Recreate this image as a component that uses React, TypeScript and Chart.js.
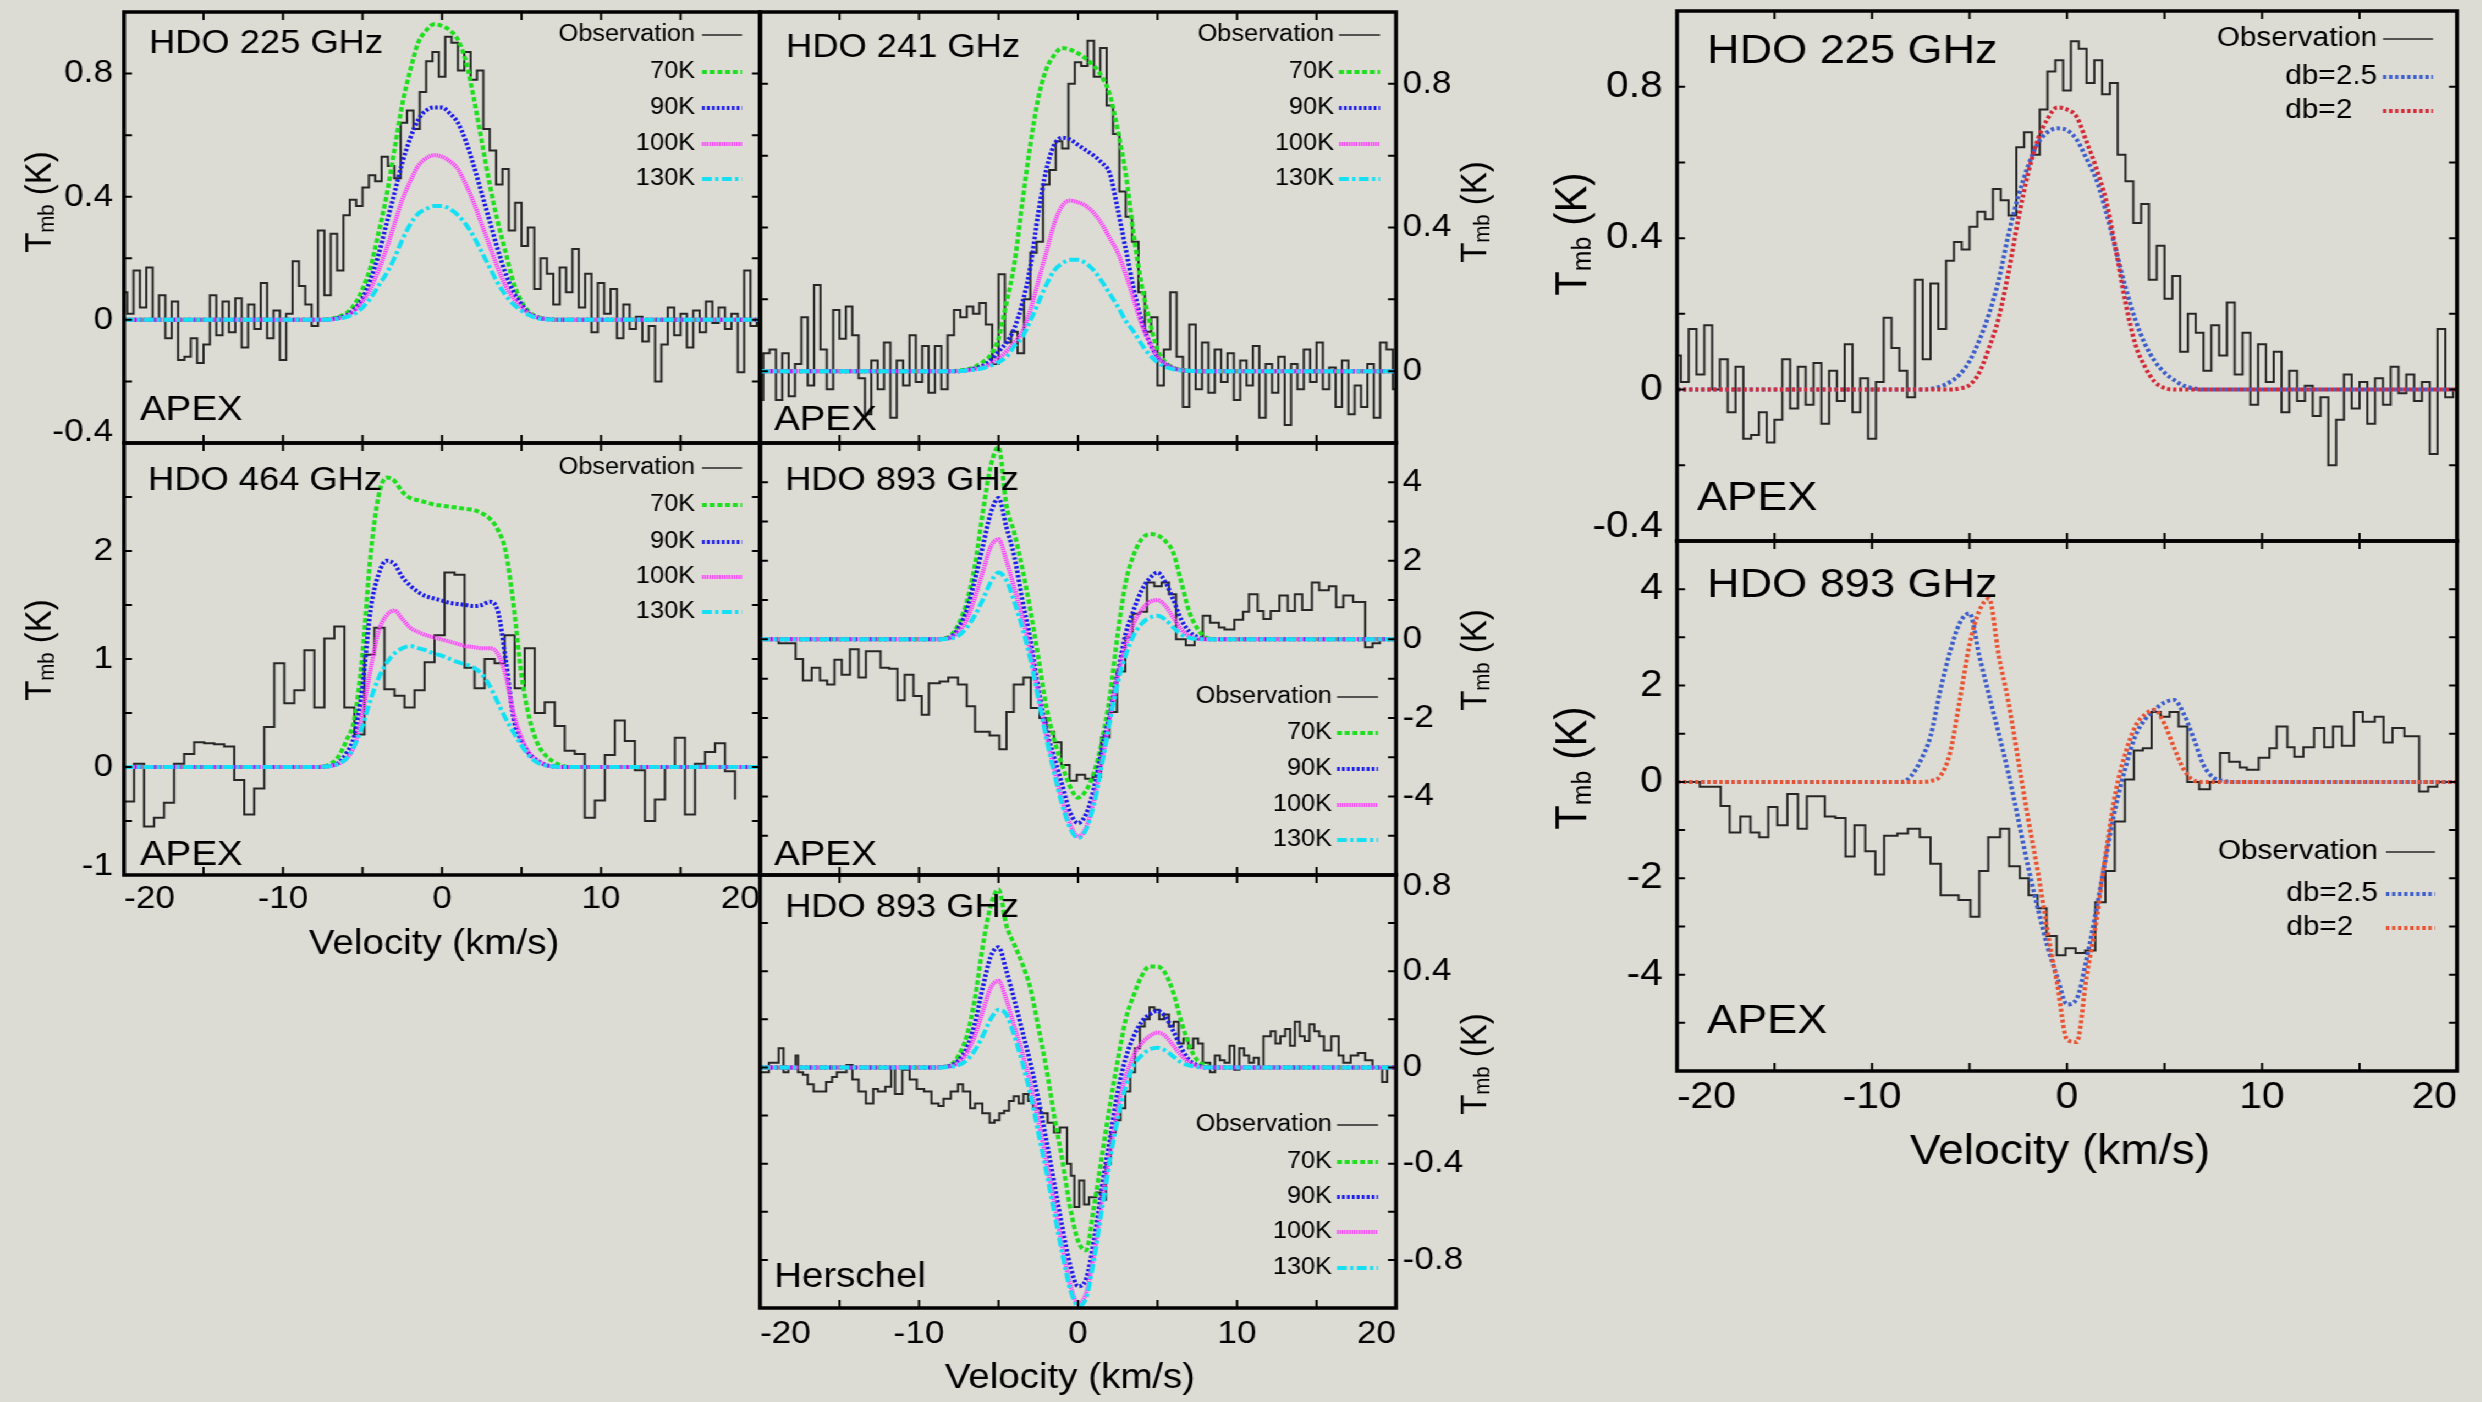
import React, { useEffect, useRef } from 'react';
import { Chart, registerables } from 'chart.js';

Chart.register(...registerables);

// ---------------------------------------------------------------- constants
const S = 1.1; // the original figure is stretched horizontally
const BG = '#dcdcd5';
const FAMILY = '"Liberation Sans", Arial, Helvetica, sans-serif';
const X_MIN = -20;
const X_MAX = 20;
const X_MINOR = 5;
const X_TICKS = [-20, -10, 0, 10, 20];

// ---------------------------------------------------------------- data
// model velocity grid (km/s)
const MODEL_V = [-20, -9, -8.5, -8, -7.5, -7, -6.5, -6, -5.5, -5, -4.5, -4, -3.5, -3, -2.5, -2, -1.5, -1, -0.5, 0, 0.5, 1, 1.5, 2, 2.5, 3, 3.5, 4, 4.5, 5, 5.5, 6, 6.5, 7, 7.5, 8, 8.5, 9, 20];

// HDO 225 GHz (APEX), channels of 0.4 km/s starting at -20
const CH0_225 = -20;
const DV_225 = 0.4;
const OBS_225 = [
  0.09, 0.02, 0.16, 0.04, 0.17, 0.00, 0.08, -0.06, 0.06, -0.13,
  -0.12, -0.06, -0.14, -0.08, 0.08, -0.05, 0.06, -0.04, 0.07, -0.09,
  0.05, -0.03, 0.12, -0.06, 0.03, -0.13, 0.02, 0.19, 0.11, 0.05,
  -0.02, 0.29, 0.08, 0.28, 0.16, 0.34, 0.39, 0.37, 0.43, 0.47,
  0.45, 0.53, 0.50, 0.46, 0.64, 0.68, 0.62, 0.74, 0.84, 0.87,
  0.79, 0.92, 0.90, 0.81, 0.87, 0.78, 0.81, 0.62, 0.55, 0.44,
  0.49, 0.29, 0.38, 0.24, 0.30, 0.10, 0.20, 0.15, 0.05, 0.17,
  0.09, 0.23, 0.04, 0.15, -0.04, 0.12, 0.02, 0.10, -0.06, 0.05,
  -0.03, 0.01, -0.07, -0.02, -0.20, -0.08, 0.04, -0.05, 0.02, -0.09,
  0.03, -0.04, 0.06, -0.01, 0.04, -0.03, 0.02, -0.17, 0.16, -0.02,
  0.00,
];
const A_70 = [0, 0, 0, 0, 0.001, 0.003, 0.01, 0.022, 0.05, 0.10, 0.17, 0.28, 0.40, 0.55, 0.70, 0.81, 0.90, 0.94, 0.96, 0.955, 0.94, 0.91, 0.84, 0.72, 0.58, 0.44, 0.32, 0.22, 0.12, 0.06, 0.025, 0.01, 0.004, 0.001, 0, 0, 0, 0, 0];
const A_90 = [0, 0, 0, 0, 0, 0.002, 0.007, 0.015, 0.035, 0.07, 0.13, 0.21, 0.31, 0.41, 0.51, 0.59, 0.65, 0.68, 0.69, 0.69, 0.67, 0.64, 0.58, 0.50, 0.41, 0.32, 0.23, 0.15, 0.09, 0.05, 0.02, 0.008, 0.003, 0.001, 0, 0, 0, 0, 0];
const A_100 = [0, 0, 0, 0, 0, 0.001, 0.005, 0.012, 0.03, 0.06, 0.10, 0.16, 0.23, 0.31, 0.39, 0.45, 0.50, 0.525, 0.535, 0.53, 0.515, 0.49, 0.44, 0.38, 0.31, 0.24, 0.17, 0.11, 0.07, 0.04, 0.02, 0.008, 0.003, 0.001, 0, 0, 0, 0, 0];
const A_130 = [0, 0, 0, 0, 0, 0.001, 0.004, 0.01, 0.02, 0.04, 0.07, 0.11, 0.15, 0.20, 0.26, 0.31, 0.345, 0.36, 0.37, 0.37, 0.36, 0.34, 0.31, 0.27, 0.22, 0.17, 0.12, 0.08, 0.05, 0.03, 0.015, 0.005, 0.002, 0.001, 0, 0, 0, 0, 0];

// HDO 241 GHz (APEX)
const CH0_241 = -20;
const DV_241 = 0.4;
const OBS_241 = [
  -0.08, 0.05, 0.06, -0.08, 0.05, -0.07, 0.02, 0.15, -0.04, 0.24,
  0.06, -0.05, 0.17, 0.09, 0.18, 0.10, -0.02, -0.12, 0.03, -0.05,
  0.08, -0.13, 0.03, -0.04, 0.10, -0.03, 0.07, -0.06, 0.07, -0.05,
  0.10, 0.17, 0.15, 0.18, 0.16, 0.19, 0.13, 0.02, 0.27, 0.08,
  0.11, 0.05, 0.20, 0.33, 0.36, 0.52, 0.56, 0.64, 0.62, 0.80,
  0.86, 0.85, 0.92, 0.82, 0.90, 0.74, 0.66, 0.50, 0.43, 0.36,
  0.22, 0.11, 0.15, -0.04, 0.06, 0.22, 0.04, -0.10, 0.13, -0.05,
  0.08, -0.06, 0.06, -0.03, 0.05, -0.08, 0.03, -0.04, 0.07, -0.13,
  0.02, -0.06, 0.04, -0.15, 0.02, -0.05, 0.06, -0.03, 0.08, -0.05,
  0.01, -0.10, 0.03, -0.12, -0.04, -0.10, 0.02, -0.13, 0.08, 0.06,
  -0.05,
];
const B_70 = [0, 0, 0, 0, 0.002, 0.005, 0.012, 0.025, 0.045, 0.09, 0.19, 0.30, 0.47, 0.63, 0.76, 0.84, 0.88, 0.90, 0.895, 0.885, 0.87, 0.85, 0.82, 0.77, 0.67, 0.55, 0.38, 0.24, 0.14, 0.06, 0.025, 0.01, 0.004, 0.001, 0, 0, 0, 0, 0];
const B_90 = [0, 0, 0, 0, 0, 0.003, 0.008, 0.015, 0.03, 0.055, 0.08, 0.12, 0.19, 0.29, 0.44, 0.56, 0.63, 0.65, 0.645, 0.63, 0.615, 0.60, 0.58, 0.55, 0.45, 0.34, 0.23, 0.14, 0.08, 0.04, 0.02, 0.008, 0.003, 0.001, 0, 0, 0, 0, 0];
const B_100 = [0, 0, 0, 0, 0, 0.002, 0.005, 0.01, 0.02, 0.035, 0.055, 0.08, 0.11, 0.17, 0.25, 0.33, 0.41, 0.46, 0.475, 0.47, 0.46, 0.44, 0.41, 0.37, 0.33, 0.27, 0.20, 0.13, 0.08, 0.04, 0.02, 0.008, 0.003, 0.001, 0, 0, 0, 0, 0];
const B_130 = [0, 0, 0, 0, 0, 0.002, 0.004, 0.008, 0.015, 0.025, 0.04, 0.07, 0.095, 0.14, 0.19, 0.24, 0.28, 0.30, 0.31, 0.31, 0.30, 0.28, 0.25, 0.215, 0.18, 0.14, 0.11, 0.075, 0.045, 0.025, 0.012, 0.005, 0.002, 0.001, 0, 0, 0, 0, 0];

// HDO 464 GHz (APEX), channels of 0.63 km/s, left edges from -20
const CH0_464 = -20;
const DV_464 = 0.63;
const OBS_464 = [
  -0.32, 0.03, -0.55, -0.47, -0.33, 0.03, 0.12, 0.23, 0.22, 0.21,
  0.19, -0.12, -0.44, -0.20, 0.37, 0.96, 0.59, 0.71, 1.08, 0.55,
  1.19, 1.30, 0.55, 0.30, 1.04, 1.29, 0.72, 0.66, 0.55, 0.71,
  0.97, 1.22, 1.80, 1.78, 0.92, 0.73, 1.00, 0.96, 1.22, 0.73,
  1.10, 0.50, 0.60, 0.38, 0.15, 0.12, -0.47, -0.31, 0.11, 0.43,
  0.24, -0.03, -0.50, -0.30, 0.00, 0.27, -0.44, 0.03, 0.14, 0.22,
  -0.04, -0.30,
];
const C_70 = [0, 0, 0, 0, 0.005, 0.03, 0.10, 0.25, 0.45, 1.05, 1.95, 2.50, 2.68, 2.65, 2.55, 2.49, 2.47, 2.45, 2.43, 2.42, 2.41, 2.40, 2.39, 2.38, 2.35, 2.30, 2.20, 2.00, 1.50, 0.85, 0.45, 0.22, 0.11, 0.05, 0.015, 0, 0, 0, 0];
const C_90 = [0, 0, 0, 0, 0.002, 0.01, 0.04, 0.13, 0.30, 0.75, 1.45, 1.78, 1.91, 1.88, 1.76, 1.68, 1.62, 1.58, 1.56, 1.54, 1.52, 1.51, 1.50, 1.49, 1.50, 1.53, 1.45, 1.00, 0.45, 0.24, 0.12, 0.06, 0.02, 0.005, 0, 0, 0, 0, 0];
const C_100 = [0, 0, 0, 0, 0.002, 0.01, 0.03, 0.08, 0.20, 0.50, 0.90, 1.25, 1.40, 1.45, 1.37, 1.29, 1.25, 1.22, 1.20, 1.18, 1.16, 1.14, 1.12, 1.11, 1.10, 1.10, 1.05, 0.85, 0.50, 0.27, 0.13, 0.06, 0.02, 0.005, 0, 0, 0, 0, 0];
const C_130 = [0, 0, 0, 0, 0.002, 0.01, 0.03, 0.08, 0.20, 0.38, 0.62, 0.82, 0.96, 1.05, 1.10, 1.12, 1.10, 1.08, 1.05, 1.03, 1.00, 0.97, 0.95, 0.92, 0.86, 0.75, 0.60, 0.45, 0.32, 0.20, 0.10, 0.04, 0.015, 0.005, 0, 0, 0, 0, 0];

// HDO 893 GHz (APEX): channel left edges and values
const OBS_893A_V = [-20.0, -18.83, -17.76, -17.30, -16.75, -16.23, -15.78, -15.32, -14.86, -14.34, -13.80, -13.34, -12.42, -11.88, -11.36, -10.90, -10.35, -9.83, -9.38, -8.70, -8.16, -7.55, -7.00, -6.48, -5.56, -4.95, -4.50, -4.04, -3.43, -2.97, -2.42, -1.97, -1.51, -1.05, -0.53, -0.08, 0.44, 0.93, 1.45, 1.97, 2.45, 2.97, 3.43, 3.89, 4.34, 4.80, 5.26, 5.72, 6.17, 6.78, 7.33, 7.85, 8.31, 8.86, 9.22, 9.83, 10.38, 10.75, 11.30, 11.66, 12.12, 12.67, 13.19, 13.64, 14.10, 14.71, 15.17, 15.78, 16.23, 16.69, 17.30, 18.06, 18.52, 18.98, 20.0];
const OBS_893A_T = [0.0, -0.10, -0.50, -1.05, -0.72, -1.05, -1.15, -0.52, -0.90, -0.25, -0.97, -0.30, -0.72, -0.75, -1.55, -0.90, -1.44, -1.92, -1.12, -1.07, -0.97, -1.15, -1.70, -2.35, -2.45, -2.80, -1.85, -1.15, -0.97, -1.75, -2.00, -2.35, -2.62, -3.20, -3.60, -3.45, -3.55, -3.50, -2.50, -1.85, -0.82, 0.05, 0.65, 0.70, 1.45, 1.35, 1.45, 1.15, 0.00, -0.15, 0.00, 0.60, 0.42, 0.30, 0.25, 0.50, 0.70, 1.15, 0.72, 0.52, 0.72, 1.12, 0.72, 1.15, 0.75, 1.45, 1.25, 1.35, 0.82, 1.12, 0.95, -0.20, -0.10, 0.00, 0.00];
const D_70 = [0, 0, 0.02, 0.1, 0.4, 0.95, 1.85, 3.2, 4.4, 4.9, 3.4, 2.7, 1.8, 0.75, -0.45, -1.7, -2.55, -3.2, -3.75, -4.03, -3.85, -3.4, -2.6, -1.45, 0.15, 1.45, 2.15, 2.55, 2.68, 2.65, 2.5, 2.2, 1.45, 0.7, 0.28, 0.06, 0.01, 0, 0];
const D_90 = [0, 0, 0.01, 0.06, 0.3, 0.75, 1.5, 2.35, 3.2, 3.6, 2.85, 2.1, 1.0, 0.0, -1.25, -2.3, -3.0, -3.7, -4.4, -4.68, -4.45, -3.8, -2.8, -1.9, -0.85, 0.15, 0.75, 1.25, 1.55, 1.7, 1.45, 1.0, 0.5, 0.2, 0.06, 0.01, 0, 0, 0];
const D_100 = [0, 0, 0.01, 0.04, 0.2, 0.5, 1.05, 1.7, 2.35, 2.55, 2.0, 1.3, 0.55, -0.3, -1.4, -2.4, -3.3, -4.1, -4.7, -5.02, -4.8, -4.1, -3.1, -2.0, -0.95, -0.15, 0.4, 0.75, 0.95, 1.0, 0.85, 0.55, 0.25, 0.08, 0.02, 0, 0, 0, 0];
const D_130 = [0, 0, 0.005, 0.02, 0.1, 0.3, 0.6, 1.0, 1.45, 1.7, 1.5, 0.95, 0.3, -0.5, -1.5, -2.5, -3.4, -4.2, -4.8, -5.06, -4.85, -4.2, -3.2, -2.1, -1.1, -0.4, 0.1, 0.4, 0.55, 0.6, 0.5, 0.3, 0.12, 0.04, 0.01, 0, 0, 0, 0];

// HDO 893 GHz (Herschel): channel left edges and values
const OBS_893H_V = [-20.0, -19.44, -18.83, -18.52, -18.22, -17.76, -17.61, -17.30, -17.00, -16.63, -16.23, -15.84, -15.47, -15.17, -14.56, -14.19, -13.80, -13.34, -12.88, -12.58, -12.12, -11.75, -11.51, -11.05, -10.59, -10.14, -9.68, -9.22, -8.77, -8.46, -8.00, -7.55, -7.24, -6.78, -6.48, -6.02, -5.56, -5.26, -4.95, -4.65, -4.34, -4.04, -3.73, -3.43, -3.13, -2.82, -2.36, -1.91, -1.51, -1.14, -0.69, -0.44, -0.23, 0.08, 0.38, 0.69, 1.14, 1.45, 1.75, 2.06, 2.36, 2.67, 2.97, 3.28, 3.58, 3.89, 4.19, 4.50, 4.80, 5.11, 5.41, 5.72, 6.02, 6.33, 6.63, 6.94, 7.24, 7.55, 7.85, 8.31, 8.61, 8.92, 9.22, 9.53, 9.83, 10.14, 10.44, 10.75, 11.05, 11.36, 11.66, 12.12, 12.42, 12.73, 13.03, 13.34, 13.64, 13.95, 14.25, 14.56, 14.86, 15.17, 15.47, 15.93, 16.39, 16.69, 17.15, 17.61, 18.06, 18.52, 19.13, 19.44, 19.6];
const OBS_893H_T = [-0.02, 0.02, 0.08, -0.02, 0.00, 0.05, -0.02, -0.03, -0.07, -0.10, -0.10, -0.06, -0.04, -0.02, 0.01, -0.05, -0.10, -0.15, -0.09, -0.10, -0.08, 0.00, -0.11, -0.01, -0.05, -0.09, -0.10, -0.15, -0.16, -0.13, -0.10, -0.07, -0.10, -0.17, -0.15, -0.19, -0.23, -0.22, -0.19, -0.18, -0.14, -0.12, -0.15, -0.11, -0.14, -0.17, -0.19, -0.23, -0.27, -0.25, -0.40, -0.45, -0.58, -0.47, -0.57, -0.54, -0.52, -0.55, -0.40, -0.27, -0.22, -0.17, -0.10, -0.02, 0.08, 0.17, 0.20, 0.25, 0.24, 0.20, 0.22, 0.17, 0.19, 0.10, 0.12, 0.08, 0.12, 0.10, 0.02, -0.02, 0.05, 0.03, 0.02, 0.09, -0.01, 0.08, 0.05, 0.02, 0.04, 0.00, 0.13, 0.15, 0.10, 0.13, 0.16, 0.09, 0.19, 0.13, 0.11, 0.18, 0.15, 0.13, 0.07, 0.13, 0.05, 0.02, 0.05, 0.06, 0.03, 0.00, -0.06, 0.00, 0.00];
const E_70 = [0, 0, 0.002, 0.01, 0.05, 0.13, 0.28, 0.5, 0.67, 0.74, 0.59, 0.51, 0.43, 0.33, 0.17, 0.0, -0.2, -0.38, -0.58, -0.72, -0.76, -0.58, -0.37, -0.16, 0.03, 0.2, 0.3, 0.38, 0.42, 0.42, 0.39, 0.31, 0.19, 0.09, 0.03, 0.01, 0, 0, 0];
const E_90 = [0, 0, 0.002, 0.008, 0.03, 0.08, 0.18, 0.33, 0.46, 0.5, 0.4, 0.28, 0.15, 0.02, -0.13, -0.3, -0.48, -0.66, -0.82, -0.91, -0.88, -0.72, -0.5, -0.3, -0.1, 0.04, 0.13, 0.19, 0.22, 0.235, 0.21, 0.15, 0.08, 0.03, 0.01, 0, 0, 0, 0];
const E_100 = [0, 0, 0.001, 0.005, 0.02, 0.06, 0.13, 0.23, 0.33, 0.36, 0.28, 0.17, 0.06, -0.07, -0.22, -0.39, -0.56, -0.74, -0.9, -0.98, -0.94, -0.78, -0.56, -0.36, -0.17, -0.04, 0.05, 0.1, 0.13, 0.145, 0.13, 0.09, 0.05, 0.02, 0.005, 0, 0, 0, 0];
const E_130 = [0, 0, 0, 0.003, 0.01, 0.03, 0.07, 0.13, 0.2, 0.24, 0.22, 0.13, 0.02, -0.11, -0.27, -0.43, -0.6, -0.77, -0.92, -0.99, -0.96, -0.8, -0.59, -0.39, -0.21, -0.08, 0.01, 0.05, 0.075, 0.082, 0.07, 0.045, 0.02, 0.008, 0.002, 0, 0, 0, 0];

// Right-hand figure: Doppler-b models
const F_DB25 = [0, 0, 0, 0, 0, 0.002, 0.008, 0.02, 0.04, 0.075, 0.13, 0.2, 0.29, 0.41, 0.51, 0.59, 0.65, 0.68, 0.69, 0.685, 0.66, 0.61, 0.555, 0.47, 0.37, 0.27, 0.185, 0.12, 0.075, 0.045, 0.025, 0.01, 0.003, 0, 0, 0, 0, 0, 0];
const F_DB2 = [0, 0, 0, 0, 0, 0, 0, 0, 0.003, 0.012, 0.045, 0.11, 0.19, 0.31, 0.45, 0.57, 0.66, 0.715, 0.745, 0.74, 0.72, 0.655, 0.585, 0.5, 0.37, 0.23, 0.12, 0.06, 0.02, 0.004, 0, 0, 0, 0, 0, 0, 0, 0, 0];
const G_DB25 = [0, 0, 0, 0.12, 0.45, 0.95, 1.9, 2.7, 3.3, 3.5, 2.62, 1.8, 1.0, 0.17, -0.78, -1.75, -2.62, -3.42, -4.05, -4.62, -4.5, -3.68, -2.66, -1.55, -0.5, 0.3, 0.95, 1.3, 1.5, 1.65, 1.7, 1.4, 0.9, 0.35, 0.09, 0.02, 0, 0, 0];
const G_DB2 = [0, 0, 0, 0, 0, 0.02, 0.12, 0.6, 1.7, 2.85, 3.55, 3.8, 2.62, 1.65, 0.45, -0.75, -1.85, -3.1, -4.2, -5.35, -5.4, -4.05, -2.9, -1.45, -0.2, 0.6, 1.15, 1.4, 1.5, 1.2, 0.7, 0.25, 0.03, 0, 0, 0, 0, 0, 0];

// ---------------------------------------------------------------- styles
type LineStyle = { color: string; width: number; dash: number[]; legendWidth?: number };
const OBS_STYLE: LineStyle = { color: '#262626', width: 2, dash: [], legendWidth: 1.6 };
const K_LABELS = ['70K', '90K', '100K', '130K'];
const K_STYLES: LineStyle[] = [
  { color: '#1ede1e', width: 4, dash: [4.5, 2.5] },
  { color: '#1c1cec', width: 4, dash: [2.5, 2] },
  { color: '#ff3cff', width: 4, dash: [1.4, 0.8] },
  { color: '#14e0f4', width: 4, dash: [9, 3, 3, 3] },
];
const DB25_STYLE: LineStyle = { color: '#3d5ecb', width: 4, dash: [3, 2.5] };
const DB2F_STYLE: LineStyle = { color: '#d42a38', width: 4, dash: [3, 2.5] };
const DB2G_STYLE: LineStyle = { color: '#ea5230', width: 4, dash: [3, 2.5] };

type SeriesDef = { label: string; xs: number[]; ys: number[]; style: LineStyle; stepped?: 'middle' | 'before'; alignPrev?: boolean };

const gridOf = (vals: number[], v0: number, dv: number) => vals.map((_, i) => v0 + dv * i);

const obs225: SeriesDef = { label: 'Observation', xs: gridOf(OBS_225, CH0_225, DV_225), ys: OBS_225, style: OBS_STYLE, stepped: 'middle' };
const obs241: SeriesDef = { label: 'Observation', xs: gridOf(OBS_241, CH0_241, DV_241), ys: OBS_241, style: OBS_STYLE, stepped: 'middle' };
const obs464: SeriesDef = { label: 'Observation', xs: gridOf(OBS_464, CH0_464, DV_464), ys: OBS_464, style: OBS_STYLE, stepped: 'before' };
const obs893A: SeriesDef = { label: 'Observation', xs: OBS_893A_V, ys: OBS_893A_T, style: OBS_STYLE, stepped: 'before' };
const obs893H: SeriesDef = { label: 'Observation', xs: OBS_893H_V, ys: OBS_893H_T, style: OBS_STYLE, stepped: 'before' };

const models = (arrs: number[][]): SeriesDef[] =>
  arrs.map((ys, i) => ({ label: K_LABELS[i], xs: MODEL_V, ys, style: K_STYLES[i] }));

// ---------------------------------------------------------------- panels
type PanelDef = {
  key: string;
  frame: [number, number, number, number];
  margin: [number, number, number, number];
  yPos: 'left' | 'right';
  yMin: number; yMax: number; yLabels: number[]; yMinor: number;
  edgeNudge: number;
  xLabels: boolean;
  tickFont: number; yTickPad: number; xTickPad: number;
  title: string; titleFont: number; titleAt: [number, number];
  tag: string; tagFont: number; tagAt: [number, number];
  legendFont: number; legendRows: number[]; legendTextR: number; legendLine: [number, number];
  yTitleAt: [number, number]; yTitleFont: number;
  velAt?: [number, number]; velFont?: number;
  series: SeriesDef[];
};

const PANELS: PanelDef[] = [
  {
    key: 'A', frame: [124, 12, 760, 443], margin: [124, 40, 12, 40], yPos: 'left',
    yMin: -0.4, yMax: 1.0, yLabels: [-0.4, 0, 0.4, 0.8], yMinor: 0.2, edgeNudge: 11, xLabels: false,
    tickFont: 32, yTickPad: 10, xTickPad: 5,
    title: 'HDO 225 GHz', titleFont: 33, titleAt: [25, 41], tag: 'APEX', tagFont: 35, tagAt: [16, -23],
    legendFont: 23, legendRows: [23, 60, 96, 132, 167], legendTextR: 65, legendLine: [58, 18],
    yTitleAt: [37, 202], yTitleFont: 33,
    series: [obs225, ...models([A_70, A_90, A_100, A_130])],
  },
  {
    key: 'B', frame: [760, 12, 1396, 443], margin: [40, 110, 12, 40], yPos: 'right',
    yMin: -0.2, yMax: 1.0, yLabels: [0, 0.4, 0.8], yMinor: 0.2, edgeNudge: 11, xLabels: false,
    tickFont: 32, yTickPad: 6, xTickPad: 5,
    title: 'HDO 241 GHz', titleFont: 33, titleAt: [26, 45], tag: 'APEX', tagFont: 35, tagAt: [14, -13],
    legendFont: 23, legendRows: [23, 60, 96, 132, 167], legendTextR: 62, legendLine: [57, 16],
    yTitleAt: [1473, 212], yTitleFont: 33,
    series: [obs241, ...models([B_70, B_90, B_100, B_130])],
  },
  {
    key: 'C', frame: [124, 443, 760, 875], margin: [124, 40, 40, 100], yPos: 'left',
    yMin: -1, yMax: 3, yLabels: [-1, 0, 1, 2], yMinor: 0.5, edgeNudge: 9, xLabels: true,
    tickFont: 32, yTickPad: 10, xTickPad: 5,
    title: 'HDO 464 GHz', titleFont: 33, titleAt: [24, 47], tag: 'APEX', tagFont: 35, tagAt: [16, -10],
    legendFont: 23, legendRows: [25, 62, 99, 134, 169], legendTextR: 65, legendLine: [58, 18],
    yTitleAt: [37, 650], yTitleFont: 33, velAt: [434, 944], velFont: 35,
    series: [obs464, ...models([C_70, C_90, C_100, C_130])],
  },
  {
    key: 'D', frame: [760, 443, 1396, 875], margin: [40, 110, 40, 40], yPos: 'right',
    yMin: -6, yMax: 5, yLabels: [-4, -2, 0, 2, 4], yMinor: 1, edgeNudge: 11, xLabels: false,
    tickFont: 32, yTickPad: 6, xTickPad: 5,
    title: 'HDO 893 GHz', titleFont: 33, titleAt: [25, 47], tag: 'APEX', tagFont: 35, tagAt: [14, -10],
    legendFont: 23, legendRows: [254, 290, 326, 362, 397], legendTextR: 64, legendLine: [59, 18],
    yTitleAt: [1473, 660], yTitleFont: 33,
    series: [obs893A, ...models([D_70, D_90, D_100, D_130])],
  },
  {
    key: 'E', frame: [760, 875, 1396, 1308], margin: [40, 110, 40, 94], yPos: 'right',
    yMin: -1.0, yMax: 0.8, yLabels: [-0.8, -0.4, 0, 0.4, 0.8], yMinor: 0.2, edgeNudge: 11, xLabels: true,
    tickFont: 32, yTickPad: 6, xTickPad: 7,
    title: 'HDO 893 GHz', titleFont: 33, titleAt: [25, 42], tag: 'Herschel', tagFont: 35, tagAt: [14, -21],
    legendFont: 23, legendRows: [250, 287, 322, 357, 393], legendTextR: 64, legendLine: [59, 18],
    yTitleAt: [1473, 1064], yTitleFont: 33, velAt: [1070, 1378], velFont: 35,
    series: [obs893H, ...models([E_70, E_90, E_100, E_130])],
  },
  {
    key: 'F', frame: [1677, 11, 2457, 541], margin: [140, 20, 11, 40], yPos: 'left',
    yMin: -0.4, yMax: 1.0, yLabels: [-0.4, 0, 0.4, 0.8], yMinor: 0.2, edgeNudge: 14, xLabels: false,
    tickFont: 37, yTickPad: 13, xTickPad: 5,
    title: 'HDO 225 GHz', titleFont: 41, titleAt: [30, 52], tag: 'APEX', tagFont: 41, tagAt: [20, -31],
    legendFont: 27, legendRows: [28, 66, 100], legendTextR: 80, legendLine: [74, 24],
    yTitleAt: [1570, 234], yTitleFont: 40,
    series: [
      obs225,
      { label: 'db=2.5', xs: MODEL_V, ys: F_DB25, style: DB25_STYLE },
      { label: 'db=2', xs: MODEL_V, ys: F_DB2, style: DB2F_STYLE, alignPrev: true },
    ],
  },
  {
    key: 'G', frame: [1677, 541, 2457, 1071], margin: [140, 20, 40, 110], yPos: 'left',
    yMin: -6, yMax: 5, yLabels: [-4, -2, 0, 2, 4], yMinor: 1, edgeNudge: 11, xLabels: true,
    tickFont: 37, yTickPad: 13, xTickPad: 5,
    title: 'HDO 893 GHz', titleFont: 41, titleAt: [30, 56], tag: 'APEX', tagFont: 41, tagAt: [30, -38],
    legendFont: 27, legendRows: [311, 353, 387], legendTextR: 79, legendLine: [71, 22],
    yTitleAt: [1570, 768], yTitleFont: 40, velAt: [2060, 1152], velFont: 42,
    series: [
      obs893A,
      { label: 'db=2.5', xs: MODEL_V, ys: G_DB25, style: DB25_STYLE },
      { label: 'db=2', xs: MODEL_V, ys: G_DB2, style: DB2G_STYLE, alignPrev: true },
    ],
  },
];

// ---------------------------------------------------------------- geometry
type Geo = { cl: number; ct: number; cw: number; ch: number; padL: number; padR: number; padT: number; padB: number };

function geometry(p: PanelDef): Geo {
  const [L, T, R, B] = p.frame;
  const [ml, mr, mt, mb] = p.margin;
  const cl = Math.floor((L - ml) / S);
  const cr = Math.ceil((R + mr) / S);
  const ct = T - mt;
  const cb = B + mb;
  return { cl, ct, cw: cr - cl, ch: cb - ct, padL: L / S - cl, padR: cr - R / S, padT: T - ct, padB: cb - B };
}

function drawYTitle(ctx: CanvasRenderingContext2D, cx: number, cy: number, size: number) {
  const sub = size * 0.62;
  ctx.save();
  ctx.translate(cx, cy);
  ctx.rotate(-Math.PI / 2);
  ctx.font = `${size}px ${FAMILY}`;
  const wT = ctx.measureText('T').width;
  const wK = ctx.measureText(' (K)').width;
  ctx.font = `${sub}px ${FAMILY}`;
  const wS = ctx.measureText('mb').width;
  let x = -(wT + wS + wK) / 2;
  const base = size * 0.36;
  ctx.fillStyle = '#000';
  ctx.textAlign = 'left';
  ctx.textBaseline = 'alphabetic';
  ctx.font = `${size}px ${FAMILY}`;
  ctx.fillText('T', x, base);
  x += wT;
  ctx.font = `${sub}px ${FAMILY}`;
  ctx.fillText('mb', x, base + size * 0.1);
  x += wS;
  ctx.font = `${size}px ${FAMILY}`;
  ctx.fillText(' (K)', x, base);
  ctx.restore();
}

function decorPlugin(p: PanelDef, g: Geo) {
  return {
    id: 'decor' + p.key,
    afterDatasetsDraw(chart: any) {
      const ctx = chart.ctx as CanvasRenderingContext2D;
      const a = chart.chartArea;
      const sx = chart.scales.x;
      const sy = chart.scales.y;
      ctx.save();
      ctx.setLineDash([]);
      ctx.strokeStyle = '#000';
      // inward tick marks on all four sides
      const TL = 8;
      ctx.lineWidth = 2;
      ctx.beginPath();
      const nx = Math.round((X_MAX - X_MIN) / X_MINOR);
      for (let i = 0; i <= nx; i++) {
        const px = sx.getPixelForValue(X_MIN + X_MINOR * i);
        ctx.moveTo(px, a.bottom); ctx.lineTo(px, a.bottom - TL);
        ctx.moveTo(px, a.top); ctx.lineTo(px, a.top + TL);
      }
      const ny = Math.round((p.yMax - p.yMin) / p.yMinor);
      for (let i = 0; i <= ny; i++) {
        const py = sy.getPixelForValue(p.yMin + p.yMinor * i);
        ctx.moveTo(a.left, py); ctx.lineTo(a.left + TL / S, py);
        ctx.moveTo(a.right, py); ctx.lineTo(a.right - TL / S, py);
      }
      ctx.stroke();
      // frame
      ctx.lineWidth = 3.5;
      ctx.strokeRect(a.left, a.top, a.right - a.left, a.bottom - a.top);

      // panel title and telescope tag
      ctx.fillStyle = '#000';
      ctx.textAlign = 'left';
      ctx.textBaseline = 'alphabetic';
      ctx.font = `${p.titleFont}px ${FAMILY}`;
      ctx.fillText(p.title, a.left + p.titleAt[0] / S, a.top + p.titleAt[1]);
      ctx.font = `${p.tagFont}px ${FAMILY}`;
      ctx.fillText(p.tag, a.left + p.tagAt[0] / S, a.bottom + p.tagAt[1]);

      // legend
      ctx.font = `${p.legendFont}px ${FAMILY}`;
      ctx.textBaseline = 'middle';
      let prevLeft = 0;
      p.series.forEach((s, i) => {
        const y = a.top + p.legendRows[i];
        const xr = a.right - p.legendTextR / S;
        ctx.fillStyle = '#000';
        if (s.alignPrev) {
          ctx.textAlign = 'left';
          ctx.fillText(s.label, prevLeft, y);
        } else {
          ctx.textAlign = 'right';
          ctx.fillText(s.label, xr, y);
          prevLeft = xr - ctx.measureText(s.label).width;
        }
        ctx.beginPath();
        ctx.strokeStyle = s.style.color;
        ctx.lineWidth = s.style.legendWidth ?? s.style.width;
        ctx.setLineDash(s.style.dash);
        ctx.moveTo(a.right - p.legendLine[0] / S, y);
        ctx.lineTo(a.right - p.legendLine[1] / S, y);
        ctx.stroke();
        ctx.setLineDash([]);
      });

      // axis titles
      drawYTitle(ctx, p.yTitleAt[0] / S - g.cl, p.yTitleAt[1] - g.ct, p.yTitleFont);
      if (p.velAt) {
        ctx.fillStyle = '#000';
        ctx.textAlign = 'center';
        ctx.textBaseline = 'middle';
        ctx.font = `${p.velFont}px ${FAMILY}`;
        ctx.fillText('Velocity (km/s)', p.velAt[0] / S - g.cl, p.velAt[1] - g.ct);
      }
      ctx.restore();
    },
  };
}

function buildConfig(p: PanelDef, g: Geo): any {
  const n = p.series.length;
  const datasets = p.series.map((s, i) => ({
    label: s.label,
    data: s.xs.map((x, j) => ({ x, y: s.ys[j] })),
    borderColor: s.style.color,
    borderWidth: s.style.width,
    borderDash: s.style.dash,
    stepped: s.stepped ?? false,
    cubicInterpolationMode: s.stepped ? 'default' : 'monotone',
    tension: 0,
    pointRadius: 0,
    pointHoverRadius: 0,
    fill: false,
    order: n - i,
  }));
  const tickFont = { family: FAMILY, size: p.tickFont, lineHeight: 1.2 };
  // labels sitting on the frame edge are placed slightly inside, as in the original figure
  const frameH = p.frame[3] - p.frame[1];
  const nudge = (p.edgeNudge / frameH) * (p.yMax - p.yMin);
  const yTickPos = p.yLabels.map((v) => {
    if (Math.abs(v - p.yMin) < 1e-9) return v + nudge;
    if (Math.abs(v - p.yMax) < 1e-9) return v - nudge;
    return v;
  });
  return {
    type: 'line',
    data: { datasets },
    options: {
      responsive: false,
      maintainAspectRatio: false,
      animation: false,
      devicePixelRatio: 1,
      events: [],
      layout: {
        autoPadding: false,
        padding: {
          left: p.yPos === 'left' ? 0 : g.padL,
          right: p.yPos === 'right' ? 0 : g.padR,
          top: g.padT,
          bottom: p.xLabels ? 0 : g.padB,
        },
      },
      plugins: { legend: { display: false }, tooltip: { enabled: false } },
      scales: {
        x: {
          type: 'linear',
          min: X_MIN,
          max: X_MAX,
          position: 'bottom',
          display: p.xLabels,
          grid: { display: false, drawTicks: false },
          border: { display: false },
          afterBuildTicks: (s: any) => { s.ticks = X_TICKS.map((v) => ({ value: v })); },
          afterFit: (s: any) => {
            if (p.xLabels) s.height = g.padB;
            s.paddingLeft = 0; s.paddingRight = 0; s.paddingTop = 0; s.paddingBottom = 0;
          },
          ticks: {
            font: tickFont, color: '#000', padding: p.xTickPad, maxRotation: 0, minRotation: 0,
            autoSkip: false, align: 'inner', callback: (v: number) => String(v),
          },
        },
        y: {
          type: 'linear',
          min: p.yMin,
          max: p.yMax,
          position: p.yPos,
          grid: { display: false, drawTicks: false },
          border: { display: false },
          afterBuildTicks: (s: any) => { s.ticks = yTickPos.map((v) => ({ value: v })); },
          afterFit: (s: any) => {
            s.width = p.yPos === 'left' ? g.padL : g.padR;
            s.paddingLeft = 0; s.paddingRight = 0; s.paddingTop = 0; s.paddingBottom = 0;
          },
          ticks: {
            font: tickFont, color: '#000', padding: p.yTickPad, autoSkip: false,
            callback: (_v: number, i: number) => String(p.yLabels[i]),
          },
        },
      },
    },
    plugins: [decorPlugin(p, g)],
  };
}

function PanelChart({ p }: { p: PanelDef }) {
  const ref = useRef<HTMLCanvasElement | null>(null);
  const g = geometry(p);
  useEffect(() => {
    if (!ref.current) return;
    const chart = new Chart(ref.current, buildConfig(p, g));
    return () => chart.destroy();
  }, []);
  return (
    <canvas
      ref={ref}
      width={g.cw}
      height={g.ch}
      style={{ position: 'absolute', left: g.cl, top: g.ct, width: g.cw, height: g.ch }}
    />
  );
}

export default function App() {
  useEffect(() => {
    document.body.style.margin = '0';
    document.body.style.background = BG;
    document.documentElement.style.overflow = 'hidden';
  }, []);
  return (
    <div style={{ position: 'absolute', left: 0, top: 0, width: 2482, height: 1402, background: BG, overflow: 'hidden' }}>
      <div
        style={{
          position: 'absolute', left: 0, top: 0, width: 2482 / S, height: 1402,
          transform: `scaleX(${S})`, transformOrigin: '0 0',
        }}
      >
        {PANELS.map((p) => <PanelChart key={p.key} p={p} />)}
      </div>
    </div>
  );
}
